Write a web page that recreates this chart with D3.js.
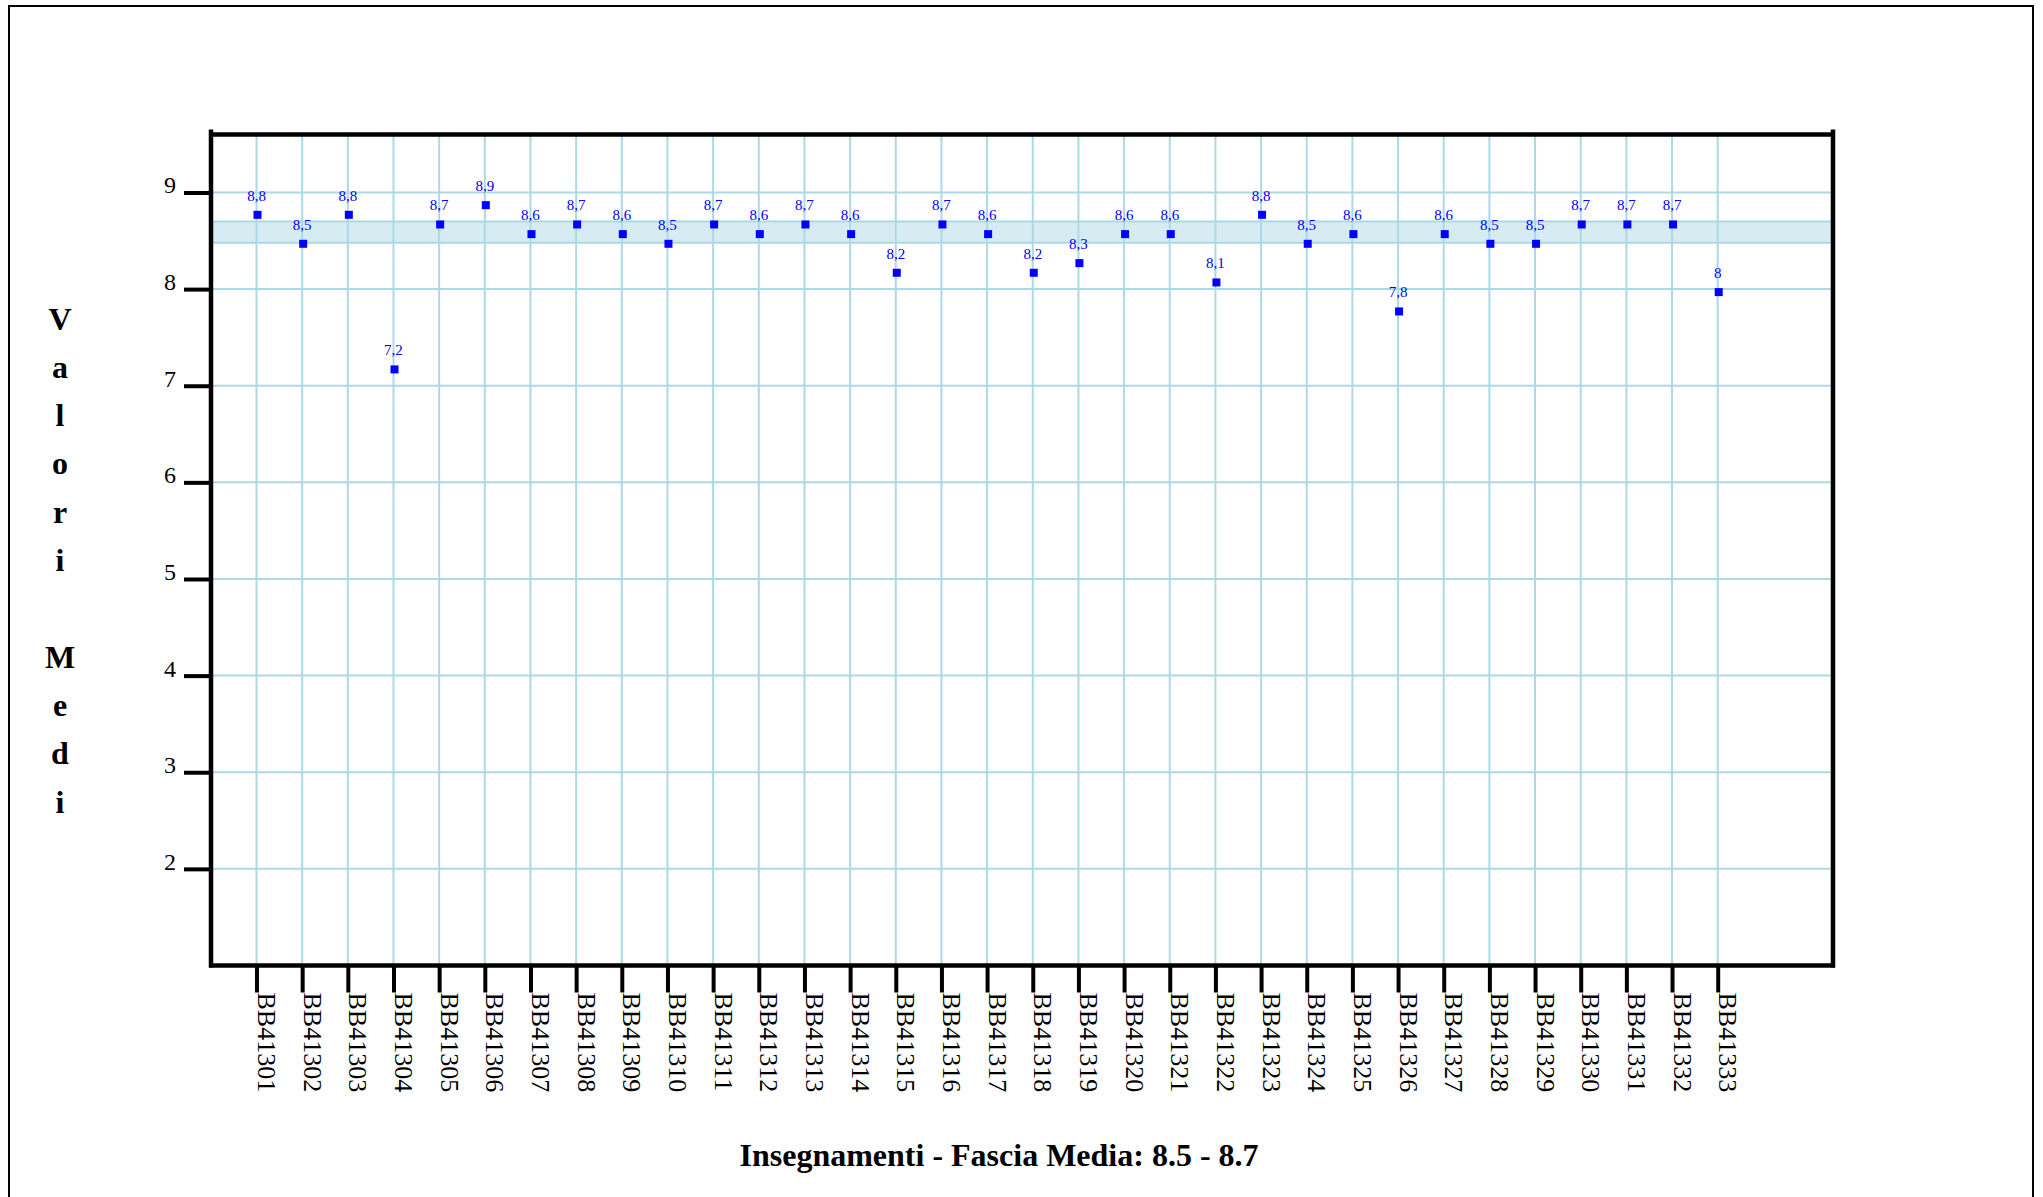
<!DOCTYPE html>
<html>
<head>
<meta charset="utf-8">
<script src="https://cdn.jsdelivr.net/npm/d3@7"></script>
<style>
  html, body { margin: 0; padding: 0; background: #fff; }
  svg { display: block; font-family: "Liberation Serif", "Times New Roman", serif; }
</style>
</head>
<body>
<svg id="chart" width="2043" height="1197"></svg>
<script>
// ---- data ----
const categories = ["BB41301","BB41302","BB41303","BB41304","BB41305","BB41306","BB41307","BB41308","BB41309","BB41310",
  "BB41311","BB41312","BB41313","BB41314","BB41315","BB41316","BB41317","BB41318","BB41319","BB41320",
  "BB41321","BB41322","BB41323","BB41324","BB41325","BB41326","BB41327","BB41328","BB41329","BB41330",
  "BB41331","BB41332","BB41333"];
const values = [8.8,8.5,8.8,7.2,8.7,8.9,8.6,8.7,8.6,8.5,
  8.7,8.6,8.7,8.6,8.2,8.7,8.6,8.2,8.3,8.6,
  8.6,8.1,8.8,8.5,8.6,7.8,8.6,8.5,8.5,8.7,
  8.7,8.7,8.0];
const yTickValues = [2,3,4,5,6,7,8,9];
const bandRange = [8.5, 8.7];
const yTitle = "Valori Medi";
const chartTitle = "Insegnamenti - Fascia Media: 8.5 - 8.7";

// ---- layout ----
const pLeft = 211, pRight = 1833, pTop = 134.5, pBottom = 965.5;
const svg = d3.select("#chart");

const x = d3.scalePoint().domain(categories).range([pLeft + 45.5, pRight - 115.3]);
const y = d3.scaleLinear().domain([1, 9.6]).range([pBottom, pTop]);

const grid = "#add8e6";

// outer border
svg.append("rect").attr("x", 9).attr("y", 6).attr("width", 2024).attr("height", 1200)
  .attr("fill", "none").attr("stroke", "#000").attr("stroke-width", 2);

// horizontal gridlines
svg.append("g").selectAll("line").data(yTickValues).join("line")
  .attr("x1", pLeft).attr("x2", pRight)
  .attr("y1", d => y(d)).attr("y2", d => y(d))
  .attr("stroke", grid).attr("stroke-width", 2);

// vertical gridlines
svg.append("g").selectAll("line").data(categories).join("line")
  .attr("x1", d => x(d)).attr("x2", d => x(d))
  .attr("y1", pTop).attr("y2", pBottom)
  .attr("stroke", grid).attr("stroke-width", 2);

// band
svg.append("rect")
  .attr("x", pLeft).attr("width", pRight - pLeft)
  .attr("y", y(bandRange[1])).attr("height", y(bandRange[0]) - y(bandRange[1]) + 2)
  .attr("fill", grid).attr("fill-opacity", 0.5)
  .attr("stroke", grid).attr("stroke-width", 2);

// y axis
const yAxis = svg.append("g").attr("transform", `translate(${pLeft},0)`)
  .call(d3.axisLeft(y).tickValues(yTickValues).tickSize(27).tickPadding(8).tickFormat(d3.format("d")));
yAxis.select(".domain").remove();
yAxis.selectAll(".tick line").attr("stroke", "#000").attr("stroke-width", 4);
yAxis.selectAll(".tick text").attr("dy", "0.02em").attr("font-size", 24)
  .attr("font-family", "Liberation Serif, serif").attr("fill", "#000");

// x axis
const xAxis = svg.append("g").attr("transform", `translate(0,${pBottom})`)
  .call(d3.axisBottom(x).tickSize(27).tickPadding(0));
xAxis.select(".domain").remove();
xAxis.selectAll(".tick line").attr("stroke", "#000").attr("stroke-width", 4);
xAxis.selectAll(".tick text")
  .attr("transform", "rotate(90)")
  .attr("x", 27).attr("y", -1).attr("dy", 0)
  .attr("text-anchor", "start")
  .attr("font-size", 26).attr("font-family", "Liberation Serif, serif").attr("fill", "#000");

// frame
const frame = svg.append("g").attr("stroke", "#000").attr("stroke-width", 4.5);
frame.append("line").attr("x1", pLeft).attr("x2", pRight).attr("y1", pTop).attr("y2", pTop);
frame.append("line").attr("x1", pLeft - 2).attr("x2", pRight + 2).attr("y1", pBottom).attr("y2", pBottom);
frame.append("line").attr("x1", pLeft).attr("x2", pLeft).attr("y1", pTop - 5).attr("y2", pBottom + 2);
frame.append("line").attr("x1", pRight).attr("x2", pRight).attr("y1", pTop - 5).attr("y2", pBottom + 2);

// points
const pts = categories.map((c, i) => ({c, v: values[i]}));
svg.append("g").selectAll("rect").data(pts).join("rect")
  .attr("x", d => x(d.c) - 3).attr("y", d => y(d.v) - 1)
  .attr("width", 8).attr("height", 8).attr("fill", "#0000ff");

// value labels
svg.append("g").selectAll("text").data(pts).join("text")
  .attr("x", d => x(d.c)).attr("y", d => y(d.v) - 11)
  .attr("text-anchor", "middle").attr("font-size", 15).attr("fill", "#0000ff")
  .text(d => String(d.v).replace(".", ","));

// y title (stacked letters)
svg.append("g").selectAll("text").data(yTitle.split("")).join("text")
  .attr("x", 60).attr("y", (d, i) => 329.5 + i * 48.3)
  .attr("text-anchor", "middle").attr("font-size", 32).attr("font-weight", "bold").attr("fill", "#000")
  .text(d => d);

// chart title
svg.append("text").attr("x", 999).attr("y", 1166)
  .attr("text-anchor", "middle").attr("font-size", 32).attr("font-weight", "bold").attr("fill", "#000")
  .text(chartTitle);
</script>
</body>
</html>
